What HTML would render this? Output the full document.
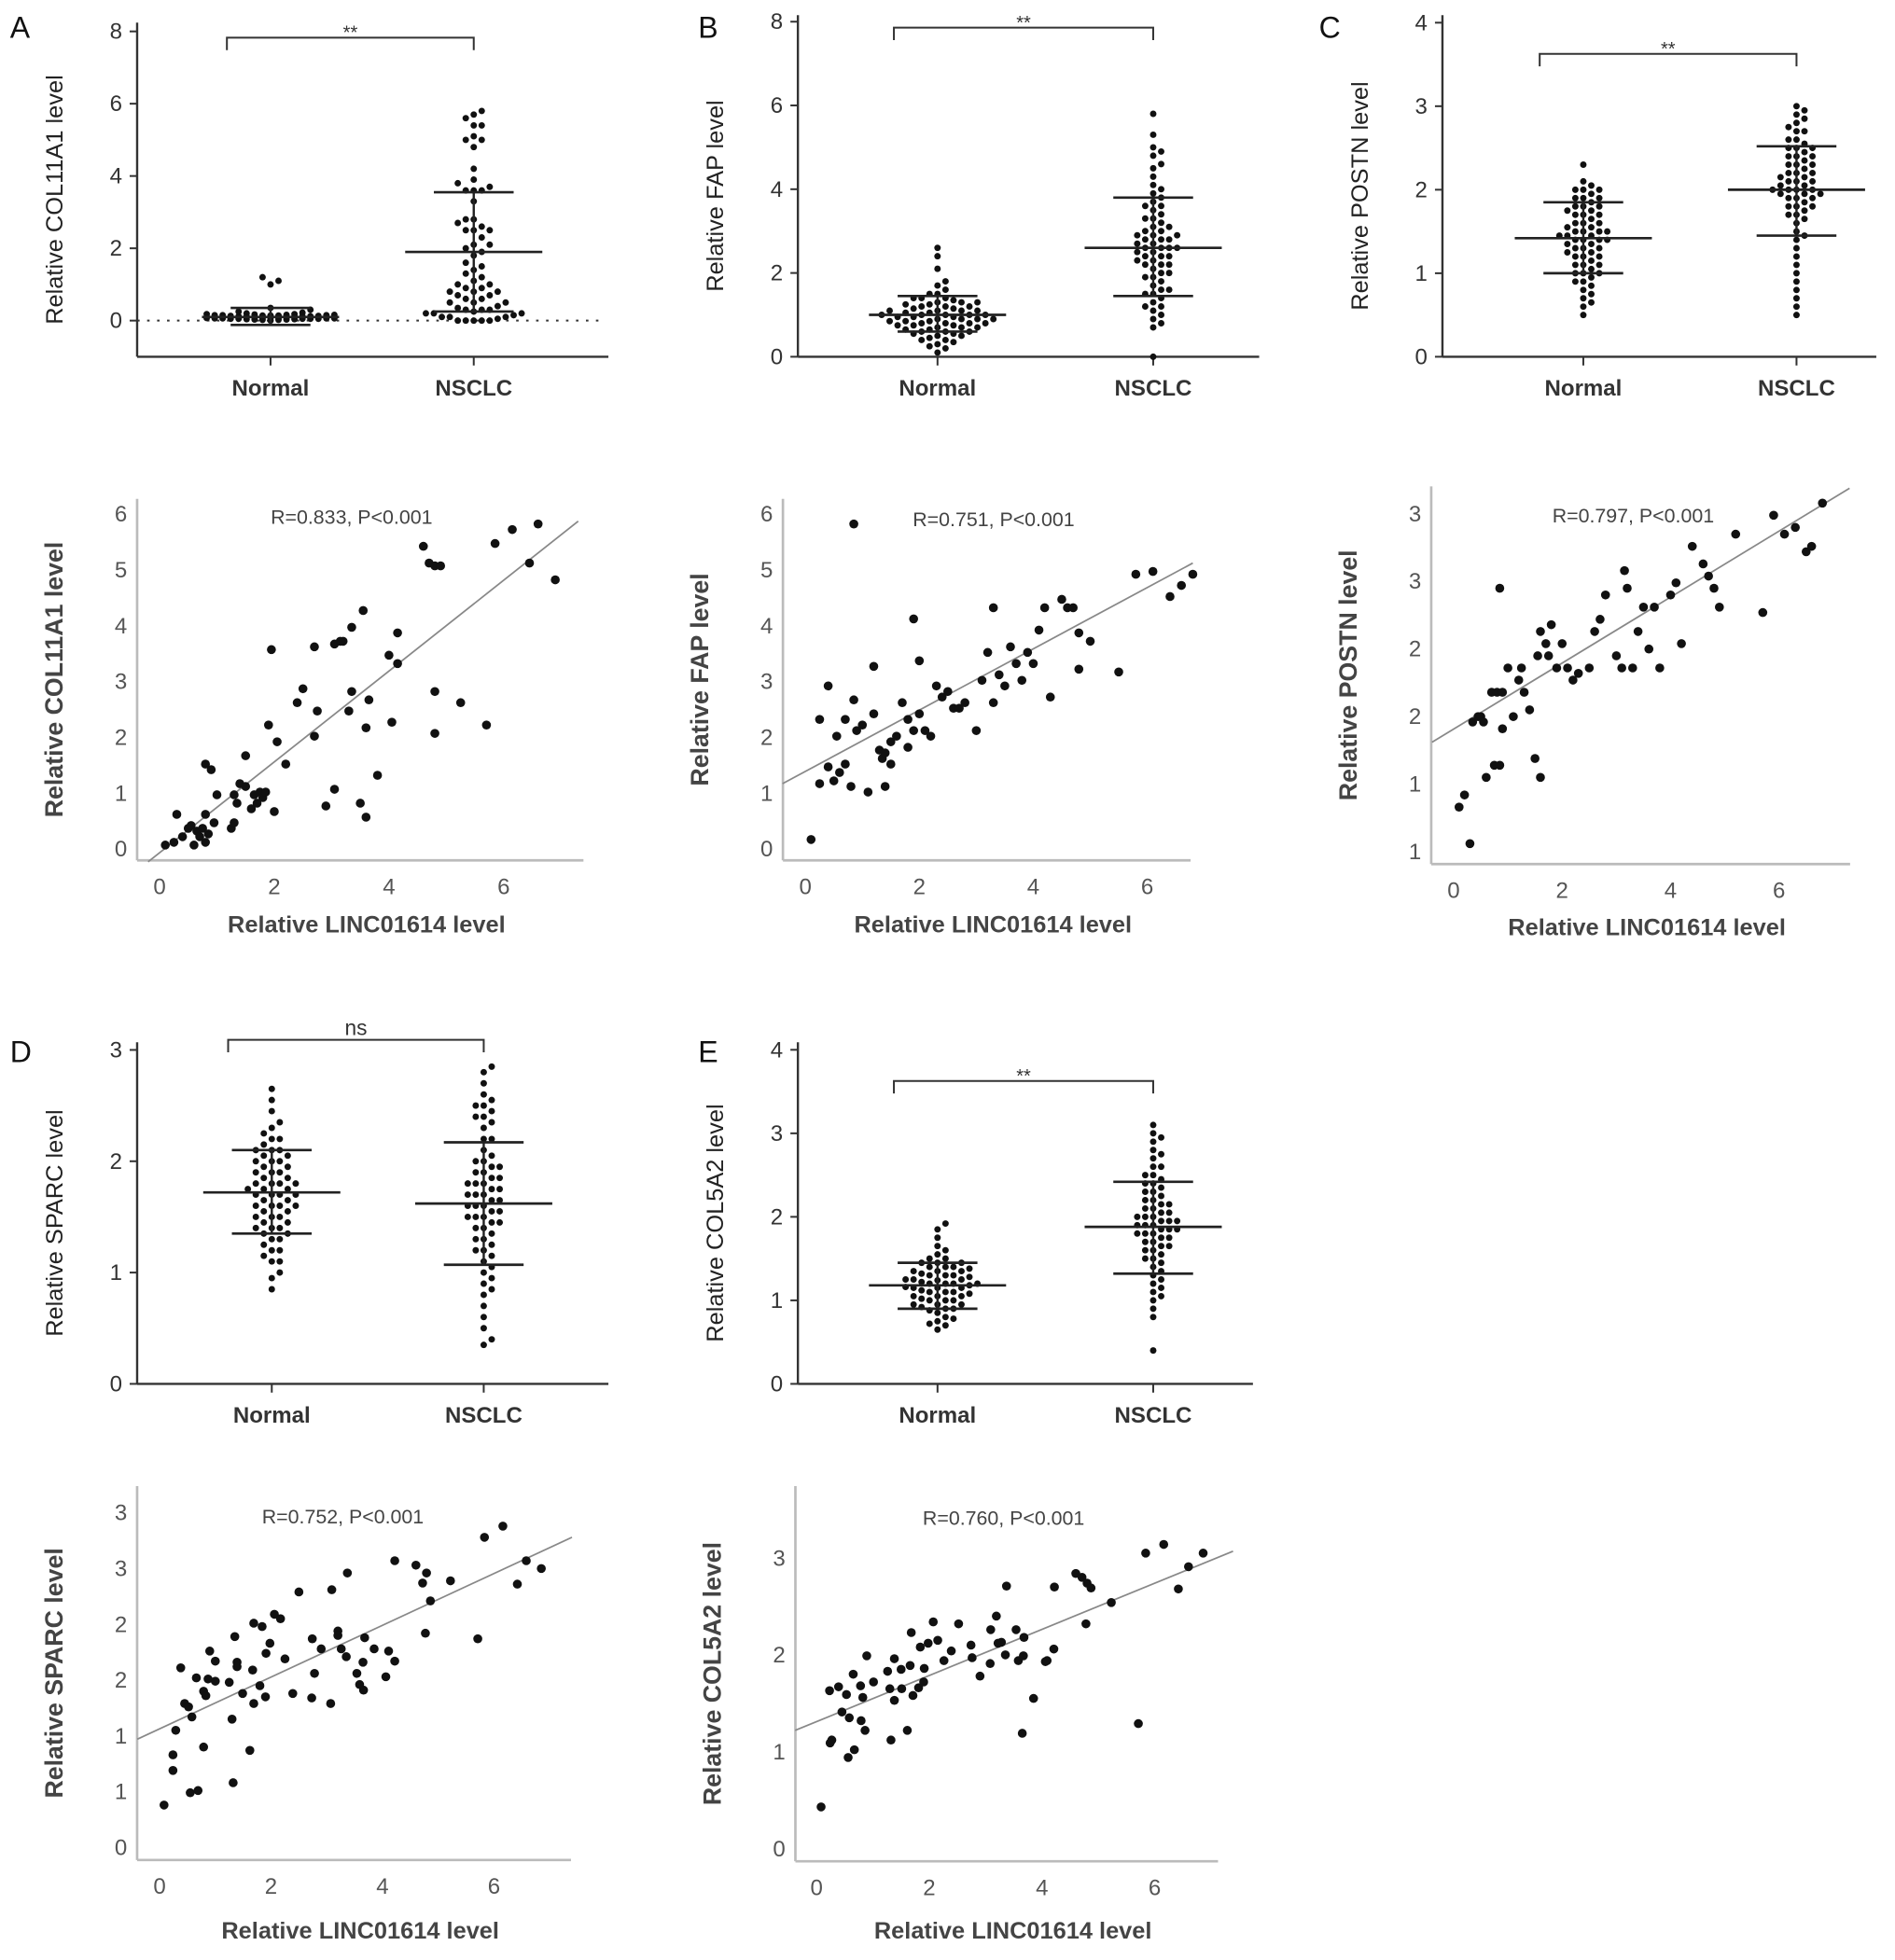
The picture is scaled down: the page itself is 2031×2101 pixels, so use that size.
<!DOCTYPE html>
<html><head><meta charset="utf-8"><style>
html,body{margin:0;padding:0;background:#fff}
svg{display:block}
text{font-family:"Liberation Sans",Arial,sans-serif}
</style></head><body>
<svg id="fig" width="2031" height="2101" viewBox="0 0 1520 1572" xmlns="http://www.w3.org/2000/svg"></svg>
<script>
// ---------- DATA ----------
const groupLabels = ["Normal","NSCLC"];
const aNormal = [0,0.02,0.03,0.05,0.05,0.06,0.07,0.08,0.08,0.09,0.1,0.1,0.1,0.11,0.12,0.12,0.13,0.14,0.15,0.15,0.16,0.17,0.18,0.2,0.22,0.25,0.05,0.07,0.09,0.04,0.06,0.08,0.1,0.12,0.14,0.03,0.05,0.07,0.11,0.13,0.15,0.18,0.02,0.04,0.06,0.09,0.1,0.12,0.14,0.16,0.08,0.1,0.12,0.05,0.07,0.09,0.11,0.06,0.08,0.1,0.3,0.35,1.0,1.1,1.2];
const aNSCLC = [5.8,5.7,5.6,5.4,5.4,5.1,5.0,5.0,4.8,4.2,3.9,3.8,3.7,3.6,3.6,3.6,3.3,2.8,2.8,2.7,2.6,2.5,2.5,2.5,2.3,2.1,2.1,2.0,1.9,1.8,1.6,1.5,1.4,1.3,1.2,1.1,1.0,1.0,0.9,0.9,0.8,0.8,0.8,0.7,0.7,0.6,0.6,0.5,0.5,0.5,0.4,0.3,0.3,0.3,0.2,0.2,0.2,0.1,0.1,0.1,0,0,0,0,0,0.05,0.15,0.25,0.35];
const bNormal = [2.6,2.4,2.1,1.8,1.7,1.6,1.5,1.5,1.4,1.4,1.35,1.3,1.3,1.25,1.2,1.2,1.15,1.1,1.1,1.1,1.05,1.0,1.0,1.0,1.0,0.95,0.95,0.9,0.9,0.9,0.85,0.85,0.8,0.8,0.8,0.8,0.75,0.75,0.7,0.7,0.7,0.65,0.6,0.6,0.6,0.55,0.5,0.5,0.45,0.4,0.4,0.35,0.3,0.25,0.2,0.1,1.0,0.95,1.05,1.1,0.9,0.85,1.2,1.3,0.75,0.65,1.15,1.25,1.4,0.55];
const bNSCLC = [5.8,5.3,5.0,4.9,4.8,4.6,4.5,4.3,4.1,3.9,3.8,3.7,3.6,3.5,3.4,3.3,3.2,3.1,3.0,3.0,2.9,2.9,2.8,2.8,2.7,2.7,2.6,2.6,2.6,2.5,2.5,2.4,2.4,2.3,2.3,2.2,2.2,2.1,2.0,2.0,1.9,1.8,1.7,1.6,1.5,1.5,1.4,1.3,1.2,1.1,1.0,0.9,0.8,0.7,0,2.6,2.8,3.1,2.4,1.9,2.2,3.3,1.6,2.9,3.6,4.0,1.2];
const cNormal = [2.3,2.1,2.05,2.0,2.0,1.95,1.9,1.9,1.85,1.8,1.8,1.75,1.7,1.7,1.65,1.6,1.6,1.55,1.5,1.5,1.5,1.45,1.45,1.4,1.4,1.4,1.35,1.35,1.3,1.3,1.25,1.2,1.2,1.15,1.1,1.1,1.05,1.0,1.0,0.95,0.9,0.85,0.8,0.75,0.7,0.6,0.5,1.6,1.7,1.3,1.2,1.5,1.8,1.1,2.0,1.4,1.9,0.65,1.0,1.25,1.55,1.75,1.45,0.9];
const cNSCLC = [3.0,2.95,2.9,2.85,2.8,2.75,2.7,2.6,2.55,2.5,2.5,2.45,2.4,2.4,2.35,2.3,2.3,2.25,2.2,2.2,2.15,2.1,2.1,2.05,2.0,2.0,2.0,1.95,1.95,1.9,1.9,1.85,1.8,1.8,1.75,1.7,1.65,1.6,1.5,1.45,1.4,1.3,1.2,1.1,1.0,0.9,0.8,0.7,0.6,0.5,2.0,2.1,2.2,1.9,2.3,2.4,1.8,2.6,1.7,2.7,2.05,1.95,2.15,2.5];
const dNormal = [2.65,2.55,2.45,2.35,2.3,2.25,2.2,2.15,2.1,2.1,2.05,2.0,2.0,1.95,1.9,1.9,1.85,1.8,1.8,1.75,1.75,1.7,1.7,1.65,1.6,1.6,1.55,1.5,1.5,1.45,1.4,1.4,1.35,1.3,1.25,1.2,1.15,1.1,1.0,0.95,0.85,1.7,1.8,1.6,1.9,1.5,2.0,1.65,1.75,1.85,1.55,2.1,1.3,1.45,1.95,2.2,1.4,1.6,1.7,1.8,2.05,1.35,1.2,1.1];
const dNSCLC = [2.85,2.8,2.7,2.6,2.55,2.5,2.45,2.4,2.35,2.3,2.2,2.1,2.05,2.0,1.95,1.9,1.85,1.8,1.8,1.75,1.7,1.7,1.65,1.6,1.6,1.55,1.5,1.5,1.45,1.4,1.4,1.35,1.3,1.25,1.2,1.15,1.1,1.0,0.95,0.9,0.8,0.7,0.6,0.5,0.4,0.35,1.9,1.8,1.7,1.6,2.0,1.5,2.2,1.45,1.65,1.75,2.4,1.3,1.2,1.85,2.5,1.55,1.95,1.05,0.85];
const eNormal = [1.92,1.85,1.75,1.65,1.6,1.55,1.5,1.45,1.45,1.4,1.4,1.35,1.35,1.3,1.3,1.25,1.25,1.2,1.2,1.2,1.15,1.15,1.1,1.1,1.05,1.05,1.0,1.0,0.95,0.95,0.9,0.9,0.85,0.8,0.75,0.7,0.65,1.2,1.15,1.25,1.1,1.3,1.0,1.18,1.22,1.12,1.35,1.05,1.4,0.95,1.28,1.08,0.88,1.32,1.16,1.24,1.5,0.78,1.02,1.45,0.92,1.38,0.72];
const eNSCLC = [3.1,3.0,2.95,2.9,2.8,2.75,2.7,2.6,2.5,2.45,2.4,2.35,2.3,2.25,2.2,2.15,2.1,2.05,2.0,2.0,1.95,1.9,1.9,1.85,1.85,1.8,1.8,1.75,1.7,1.65,1.6,1.55,1.5,1.45,1.4,1.3,1.2,1.1,1.0,0.9,0.8,0.4,1.9,2.0,1.7,2.1,1.8,2.2,1.6,1.95,2.3,1.5,2.4,1.75,1.85,2.6,1.35,2.05,1.25,2.15,1.65,2.5,1.15,1.95,1.05];
const stripStats = {
  A:[[0.1,0.35,-0.12],[1.9,3.55,0.25]],
  B:[[1.0,1.45,0.6],[2.6,3.8,1.45]],
  C:[[1.42,1.85,1.0],[2.0,2.52,1.45]],
  D:[[1.72,2.1,1.35],[1.62,2.17,1.07]],
  E:[[1.18,1.45,0.9],[1.88,2.42,1.32]]
};
// scatter data: LINC01614 (x) vs gene (y)
const scAx = [0.1,0.25,0.3,0.4,0.5,0.55,0.6,0.65,0.7,0.75,0.8,0.8,0.85,0.8,0.9,0.95,1.0,1.25,1.3,1.3,1.35,1.4,1.5,1.5,1.6,1.65,1.7,1.75,1.8,1.85,2.0,1.9,2.05,1.95,2.2,2.4,2.5,2.7,2.75,2.7,2.9,3.05,3.05,3.2,3.15,3.3,3.35,3.35,3.55,3.5,3.6,3.6,3.65,3.8,4.0,4.05,4.15,4.15,4.6,4.7,4.8,4.9,4.8,4.8,5.25,5.7,5.85,6.15,6.45,6.6,6.9];
const scAy = [0.05,0.1,0.6,0.2,0.35,0.4,0.05,0.3,0.2,0.35,0.1,0.6,0.25,1.5,1.4,0.45,0.95,0.35,0.45,0.95,0.8,1.15,1.1,1.65,0.7,0.95,0.8,1.0,0.9,1.0,0.65,2.2,1.9,3.55,1.5,2.6,2.85,2.0,2.45,3.6,0.75,1.05,3.65,3.7,3.7,2.45,2.8,3.95,4.25,0.8,0.55,2.15,2.65,1.3,3.45,2.25,3.3,3.85,5.4,5.1,5.05,5.05,2.05,2.8,2.6,2.2,5.45,5.7,5.1,5.8,4.8];
const scBx = [0.1,0.25,0.4,0.25,0.4,0.5,0.6,0.7,0.8,0.85,0.9,0.55,0.7,1.0,1.1,1.2,1.3,1.35,1.4,1.5,1.5,1.6,1.7,1.8,1.9,2.0,2.1,2.2,2.3,2.4,1.2,1.4,1.8,2.0,2.5,2.6,2.7,2.8,3.0,3.1,3.2,3.3,3.4,3.5,3.6,3.7,3.8,3.9,4.0,4.1,4.2,4.3,4.5,4.6,4.7,4.8,5.0,5.5,5.8,6.1,6.4,6.6,6.8,0.85,1.9,3.3,4.8];
const scBy = [0.15,2.3,2.9,1.15,1.45,1.2,1.35,1.5,1.1,2.65,2.1,2.0,2.3,2.2,1.0,2.4,1.75,1.6,1.1,1.5,1.9,2.0,2.6,2.3,2.1,2.4,2.1,2.0,2.9,2.7,3.25,1.7,1.8,3.35,2.8,2.5,2.5,2.6,2.1,3.0,3.5,2.6,3.1,2.9,3.6,3.3,3.0,3.5,3.3,3.9,4.3,2.7,4.45,4.3,4.3,3.2,3.7,3.15,4.9,4.95,4.5,4.7,4.9,5.8,4.1,4.3,3.85];
const scCx = [0.1,0.2,0.3,0.35,0.45,0.5,0.55,0.6,0.7,0.75,0.8,0.85,0.9,0.9,1.0,1.1,1.2,1.25,1.3,1.4,1.5,1.55,1.6,1.7,1.75,1.8,1.9,2.0,2.1,2.2,2.3,2.5,2.6,2.7,2.8,3.0,3.1,3.15,3.2,3.3,3.4,3.5,3.6,3.7,3.8,4.0,4.1,4.2,4.4,4.6,4.7,4.8,4.9,5.2,5.7,5.9,6.1,6.3,6.5,6.6,6.8,0.85,1.6];
const scCy = [1.32,1.41,1.05,1.95,1.99,1.99,1.95,1.54,2.17,1.63,2.17,2.94,1.9,2.17,2.35,1.99,2.26,2.35,2.17,2.04,1.68,2.44,2.62,2.53,2.44,2.67,2.35,2.53,2.35,2.26,2.31,2.35,2.62,2.71,2.89,2.44,2.35,3.07,2.94,2.35,2.62,2.8,2.49,2.8,2.35,2.89,2.98,2.53,3.25,3.12,3.03,2.94,2.8,3.34,2.76,3.48,3.34,3.39,3.21,3.25,3.57,1.63,1.54];
const scDx = [0.08,0.24,0.24,0.29,0.38,0.45,0.52,0.58,0.55,0.69,0.66,0.79,0.79,0.83,0.87,0.9,1.0,1.0,1.25,1.3,1.32,1.35,1.39,1.39,1.49,1.62,1.67,1.69,1.69,1.84,1.8,1.9,1.91,1.98,2.06,2.17,2.25,2.39,2.5,2.73,2.74,2.78,2.9,3.07,3.09,3.2,3.2,3.26,3.35,3.37,3.54,3.59,3.66,3.65,3.68,3.85,4.06,4.11,4.22,4.22,4.6,4.72,4.79,4.77,4.86,5.22,5.71,5.83,6.16,6.42,6.58,6.85];
const scDy = [0.37,0.82,0.68,1.04,1.6,1.28,1.25,1.16,0.48,0.5,1.51,0.89,1.39,1.35,1.5,1.75,1.66,1.48,1.47,1.14,0.57,1.88,1.65,1.61,1.37,0.86,1.58,1.28,2.0,1.97,1.44,1.34,1.73,1.82,2.08,2.04,1.68,1.37,2.28,1.33,1.86,1.55,1.77,1.28,2.3,1.93,1.89,1.77,1.7,2.45,1.55,1.45,1.4,1.65,1.87,1.77,1.52,1.75,1.66,2.56,2.52,2.36,2.45,1.91,2.2,2.38,1.86,2.77,2.87,2.35,2.56,2.49];
const scEx = [0.08,0.23,0.24,0.27,0.39,0.45,0.53,0.56,0.58,0.67,0.65,0.78,0.79,0.82,0.86,0.89,1.01,1.26,1.32,1.3,1.38,1.38,1.5,1.51,1.61,1.68,1.66,1.71,1.81,1.84,1.9,1.91,1.98,2.07,2.15,2.26,2.39,2.52,2.74,2.76,2.9,3.08,3.09,3.19,3.22,3.28,3.35,3.37,3.54,3.58,3.67,3.68,3.65,3.85,4.06,4.09,4.21,4.22,4.6,4.71,4.78,4.8,4.87,5.23,5.71,5.84,6.16,6.42,6.6,6.86];
const scEy = [0.42,1.62,1.08,1.11,1.66,1.4,1.58,0.93,1.34,1.01,1.79,1.67,1.31,1.55,1.21,1.98,1.71,1.82,1.11,1.64,1.52,1.95,1.84,1.64,1.21,2.22,1.88,1.57,1.65,2.07,1.71,1.85,2.11,2.33,2.14,1.93,2.03,2.31,2.09,1.96,1.77,1.9,2.25,2.39,2.11,2.12,1.99,2.7,2.25,1.93,1.98,2.17,1.18,1.54,1.92,1.93,2.05,2.69,2.83,2.79,2.31,2.73,2.68,2.53,1.28,3.04,3.13,2.67,2.9,3.04];

// ---------- LAYOUT (display coords) ----------
const svg = document.getElementById('fig');
const NS = 'http://www.w3.org/2000/svg';
function mk(tag, attrs, parent){const e=document.createElementNS(NS,tag);for(const k in attrs)e.setAttribute(k,attrs[k]);(parent||svg).appendChild(e);return e;}
function txt(s,x,y,attrs,parent){const t=mk('text',Object.assign({x:x,y:y},attrs),parent);t.textContent=s;return t;}

const strips = [
 {id:'A',letter:'A',lx:8,ly:30,ax:110,yTop:18,y0:257,unit:29,yBottom:286,xEnd:488,gx:[217,380],ticks:[0,2,4,6,8],yTitle:'Relative COL11A1 level',br:30,sig:'**',data:[aNormal,aNSCLC],dotted:true},
 {id:'B',letter:'B',lx:560,ly:30,ax:640,yTop:12,y0:286,unit:33.6,yBottom:286,xEnd:1010,gx:[752,925],ticks:[0,2,4,6,8],yTitle:'Relative FAP level',br:22,sig:'**',data:[bNormal,bNSCLC]},
 {id:'C',letter:'C',lx:1058,ly:30,ax:1157,yTop:12,y0:286,unit:67,yBottom:286,xEnd:1505,gx:[1270,1441],ticks:[0,1,2,3,4],yTitle:'Relative POSTN level',br:43,sig:'**',data:[cNormal,cNSCLC]},
 {id:'D',letter:'D',lx:8,ly:852,ax:110,yTop:836,y0:1110,unit:89.3,yBottom:1110,xEnd:488,gx:[218,388],ticks:[0,1,2,3],yTitle:'Relative SPARC level',br:834,sig:'ns',data:[dNormal,dNSCLC]},
 {id:'E',letter:'E',lx:560,ly:852,ax:640,yTop:836,y0:1110,unit:67,yBottom:1110,xEnd:1005,gx:[752,925],ticks:[0,1,2,3,4],yTitle:'Relative COL5A2 level',br:867,sig:'**',data:[eNormal,eNSCLC]}
];

strips.forEach(p=>{
  const g=mk('g',{});  
  const Y=v=>p.y0-v*p.unit;
  const L=txt(p.letter,p.lx,p.ly,{'font-size':24,fill:'#111'},g);
   
  mk('line',{x1:p.ax,y1:p.yTop,x2:p.ax,y2:p.yBottom,stroke:'#333','stroke-width':1.8},g);
  mk('line',{x1:p.ax,y1:p.yBottom,x2:p.xEnd,y2:p.yBottom,stroke:'#333','stroke-width':1.8},g);
  p.ticks.forEach(t=>{
    mk('line',{x1:p.ax-6,y1:Y(t),x2:p.ax,y2:Y(t),stroke:'#333','stroke-width':1.5},g);
    const tl=txt(String(t),p.ax-12,Y(t)+6,{'font-size':18,fill:'#333','text-anchor':'end'},g);
     
  });
  const yt=txt(p.yTitle,0,0,{'font-size':19,fill:'#222','text-anchor':'middle',transform:`translate(${p.ax-60},${(p.yTop+p.yBottom)/2+8}) rotate(-90)`},g);
   
  if(p.dotted) mk('line',{x1:p.ax,y1:p.y0,x2:p.xEnd-3,y2:p.y0,stroke:'#333','stroke-width':1.5,'stroke-dasharray':'2 6'},g);
  mk('path',{d:`M${p.gx[0]-35},${p.br+10} V${p.br} H${p.gx[1]} V${p.br+10}`,fill:'none',stroke:'#333','stroke-width':1.5},g);
  const s=txt(p.sig,(p.gx[0]-35+p.gx[1])/2,p.br-(p.sig==='ns'?4:-1),{'font-size':p.sig==='ns'?17:15,fill:'#333','text-anchor':'middle'},g);
   
  p.data.forEach((vals,gi)=>{
    const cx=p.gx[gi];
    mk('line',{x1:cx,y1:p.yBottom,x2:cx,y2:p.yBottom+7,stroke:'#333','stroke-width':1.5},g);
    const xl=txt(groupLabels[gi],cx,p.yBottom+31,{'font-size':18,'font-weight':'bold',fill:'#333','text-anchor':'middle'},g);
     
    const r=2.6, placed=[], step=2*r+1.2, maxK=16;
    [...vals].sort((a,b)=>a-b).forEach(v=>{
      const y=Y(v); let best=null, bestD=-1;
      for(let k=0;k<=maxK;k++){
        const x=cx+(k===0?0:Math.ceil(k/2)*step*(k%2?1:-1));
        let d=Infinity; placed.forEach(q=>{d=Math.min(d,Math.hypot(q[0]-x,q[1]-y));});
        if(d>=2*r+0.8){best=x;break;}
        if(d>bestD){bestD=d;best=x;}
      }
      placed.push([best,y]);
      const c=mk('circle',{cx:best,cy:y,r:r,fill:'#111'},g);
       
    });
    const st=stripStats[p.id][gi];
    mk('line',{x1:cx,y1:Y(st[1]),x2:cx,y2:Y(st[2]),stroke:'#222','stroke-width':1.8},g);
    mk('line',{x1:cx-55,y1:Y(st[0]),x2:cx+55,y2:Y(st[0]),stroke:'#222','stroke-width':2},g);
    mk('line',{x1:cx-32,y1:Y(st[1]),x2:cx+32,y2:Y(st[1]),stroke:'#222','stroke-width':2},g);
    mk('line',{x1:cx-32,y1:Y(st[2]),x2:cx+32,y2:Y(st[2]),stroke:'#222','stroke-width':2},g);
  });
});

const scatters = [
 {id:'a',ax:110,top:400,bottom:690,right:468,x0:128,xu:46,yv0:0,yp0:680,yu:44.8,yTicks:[0,1,2,3,4,5,6],yLabels:['0','1','2','3','4','5','6'],line:[-0.2,-0.25,7.3,5.85],r:'R=0.833, P<0.001',rx:282,ry:420,yTitle:'Relative COL11A1 level',xs:scAx,ys:scAy,ty:748},
 {id:'b',ax:628,top:400,bottom:690,right:955,x0:646,xu:45.7,yv0:0,yp0:680,yu:44.8,yTicks:[0,1,2,3,4,5,6],yLabels:['0','1','2','3','4','5','6'],line:[-0.4,1.15,6.8,5.1],r:'R=0.751, P<0.001',rx:797,ry:422,yTitle:'Relative FAP level',xs:scBx,ys:scBy,ty:748},
 {id:'c',ax:1148,top:390,bottom:693,right:1484,x0:1166,xu:43.5,yv0:1,yp0:682,yu:108.4,yTicks:[1,1.5,2,2.5,3,3.5],yLabels:['1','1','2','2','3','3'],line:[-0.4,1.8,7.3,3.68],r:'R=0.797, P<0.001',rx:1310,ry:419,yTitle:'Relative POSTN level',xs:scCx,ys:scCy,ty:750},
 {id:'d',ax:110,top:1192,bottom:1492,right:458,x0:128,xu:44.7,yv0:0,yp0:1481,yu:89.5,yTicks:[0,0.5,1,1.5,2,2.5,3],yLabels:['0','1','1','2','2','3','3'],line:[-0.4,0.96,7.4,2.77],r:'R=0.752, P<0.001',rx:275,ry:1222,yTitle:'Relative SPARC level',xs:scDx,ys:scDy,ty:1555},
 {id:'e',ax:638,top:1192,bottom:1493,right:977,x0:655,xu:45.2,yv0:0,yp0:1482,yu:77.7,yTicks:[0,1,2,3],yLabels:['0','1','2','3'],line:[-0.38,1.21,7.39,3.06],r:'R=0.760, P<0.001',rx:805,ry:1223,yTitle:'Relative COL5A2 level',xs:scEx,ys:scEy,ty:1555}
];
scatters.forEach(p=>{
  const g=mk('g',{});  
  const X=v=>p.x0+v*p.xu, Y=v=>p.yp0-(v-p.yv0)*p.yu;
  mk('line',{x1:p.ax,y1:p.top,x2:p.ax,y2:p.bottom,stroke:'#bbb','stroke-width':2},g);
  mk('line',{x1:p.ax,y1:p.bottom,x2:p.right,y2:p.bottom,stroke:'#bbb','stroke-width':2},g);
  p.yTicks.forEach((t,i)=>{const tl=txt(p.yLabels[i],p.ax-8,Y(t)+7,{'font-size':18,fill:'#555','text-anchor':'end'},g);
     });
  [0,2,4,6].forEach(t=>{const tl=txt(String(t),X(t),p.bottom+27,{'font-size':18,fill:'#555','text-anchor':'middle'},g);
     });
  mk('line',{x1:X(p.line[0]),y1:Y(p.line[1]),x2:X(p.line[2]),y2:Y(p.line[3]),stroke:'#888','stroke-width':1.3},g);
  const rt=txt(p.r,p.rx,p.ry,{'font-size':16,fill:'#444','text-anchor':'middle'},g);
   
  const yt=txt(p.yTitle,0,0,{'font-size':20,'font-weight':'bold',fill:'#444','text-anchor':'middle',transform:`translate(${p.ax-60},${(p.top+p.bottom)/2}) rotate(-90)`},g);
   
  const xt=txt('Relative LINC01614 level',(p.ax+p.right)/2+5,p.ty,{'font-size':19,'font-weight':'bold',fill:'#444','text-anchor':'middle'},g);
   
  p.xs.forEach((xv,i)=>{const c=mk('circle',{cx:X(xv),cy:Y(p.ys[i]),r:3.6,fill:'#111'},g);
     });
});
</script>
</body></html>
